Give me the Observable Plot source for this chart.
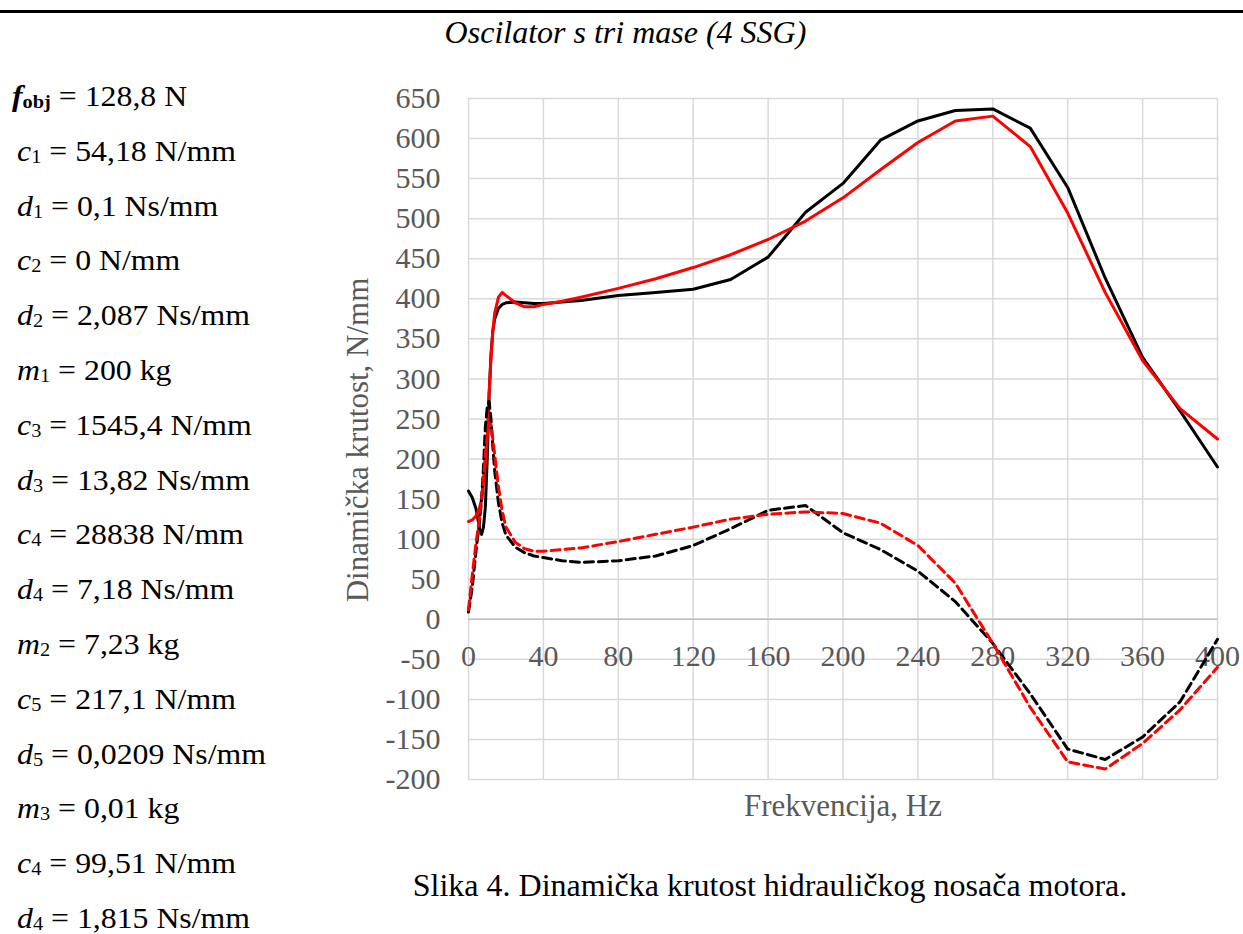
<!DOCTYPE html>
<html>
<head>
<meta charset="utf-8">
<script src="https://cdn.jsdelivr.net/npm/d3@7"></script>
<script src="https://cdn.jsdelivr.net/npm/@observablehq/plot@0.6"></script>
<style>
  html, body { margin: 0; padding: 0; background: #fff; }
  body { width: 1243px; height: 934px; position: relative; overflow: hidden;
         font-family: "Liberation Serif", serif; color: #000; }
  #topline { position: absolute; left: 0; top: 10px; width: 1243px; height: 3px; background: #000; }
  #title { position: absolute; left: 4px; top: 15px; width: 1243px; text-align: center;
           font-family: "Liberation Serif", serif; font-style: italic; font-size: 32px; line-height: 34px; }
  #chart { position: absolute; left: 0; top: 60px; }
  #params { position: absolute; left: 0; top: 0; z-index: 2; font-family: "Liberation Serif", serif; }
  .p { position: absolute; white-space: nowrap; font-family: "Liberation Serif", serif; font-size: 30px; line-height: 1;
       transform-origin: left center; transform: translateY(-50%) scaleX(1.06); }
  .p i { font-style: italic; font-family: "Liberation Serif", serif; }
  .p sub { font-size: 64%; vertical-align: -0.12em; line-height: 0; font-family: "Liberation Serif", serif; }
  .p.first i, .p.first sub { font-weight: bold; }
  .axtitle { position: absolute; white-space: nowrap; font-family: "Liberation Serif", serif; font-size: 31px; color: #595959; line-height: 1; }
  #xtitle { left: 843px; top: 805px; transform: translate(-50%, -50%); }
  #ytitle { left: 357px; top: 440px; transform: translate(-50%, -50%) rotate(-90deg); }
  #caption { position: absolute; left: 770px; top: 885px; transform: translate(-50%, -50%);
             white-space: nowrap; font-family: "Liberation Serif", serif; font-size: 32px; line-height: 1; }
</style>
</head>
<body>
<div id="topline"></div>
<div id="title">Oscilator s tri mase (4 SSG)</div>
<div id="chart"></div>
<div id="params"></div>
<div class="axtitle" id="xtitle">Frekvencija, Hz</div>
<div class="axtitle" id="ytitle">Dinamička krutost, N/mm</div>
<div id="caption">Slika 4. Dinamička krutost hidrauličkog nosača motora.</div>
<script>
// ---------------- data ----------------
const freq = [0, 2, 4, 6, 7, 8, 9, 10, 11, 12, 13, 14, 16, 18, 20, 25, 30, 35, 40, 50, 60,
              80, 100, 120, 140, 160, 180, 200, 220, 240, 260, 280, 300, 320, 340, 360, 380, 400];

// solid black
const stiffBlackSolid = [160, 152, 138, 112, 106, 115, 140, 200, 280, 330, 360, 375, 388, 393, 395, 396, 395, 394, 394, 396, 398,
                         404, 408, 412, 424, 452, 508, 544, 598, 622, 635, 637, 613, 539, 426, 327, 260, 190];
// solid red
const stiffRedSolid = [122, 124, 129, 140, 150, 170, 195, 226, 280, 325, 360, 382, 402, 408, 404, 395, 390, 390, 393, 397, 402,
                       413, 425, 439, 455, 474, 497, 526, 561, 595, 622, 628, 590, 507, 408, 323, 263, 225];
// dashed black
const stiffBlackDashed = [9, 40, 85, 124, 150, 190, 240, 265, 272, 250, 215, 185, 145, 120, 105, 90, 83, 79, 77, 73, 71,
                          73, 79, 92, 113, 136, 142, 108, 87, 60, 22, -30, -93, -162, -175, -147, -103, -25];
// dashed red
const stiffRedDashed = [12, 55, 95, 129, 150, 175, 205, 230, 245, 243, 225, 205, 165, 135, 115, 96, 88, 85, 85, 87, 89,
                        97, 106, 115, 125, 131, 134, 132, 120, 92, 45, -30, -110, -178, -187, -155, -113, -60];

const xTicks = [0, 40, 80, 120, 160, 200, 240, 280, 320, 360, 400];
const yTicks = [-200, -150, -100, -50, 0, 50, 100, 150, 200, 250, 300, 350, 400, 450, 500, 550, 600, 650];

// parameter list (left column)
const paramSymbol = ["f", "c", "d", "c", "d", "m", "c", "d", "c", "d", "m", "c", "d", "m", "c", "d"];
const paramIndex  = ["obj", "1", "1", "2", "2", "1", "3", "3", "4", "4", "2", "5", "5", "3", "4", "4"];
const paramValue  = ["128,8 N", "54,18 N/mm", "0,1 Ns/mm", "0 N/mm", "2,087 Ns/mm", "200 kg",
                     "1545,4 N/mm", "13,82 Ns/mm", "28838 N/mm", "7,18 Ns/mm", "7,23 kg",
                     "217,1 N/mm", "0,0209 Ns/mm", "0,01 kg", "99,51 N/mm", "1,815 Ns/mm"];

// ---------------- parameter text ----------------
const params = document.getElementById("params");
paramSymbol.forEach((s, i) => {
  const div = document.createElement("div");
  div.className = "p" + (i === 0 ? " first" : "");
  div.style.left = (i === 0 ? 12 : 17) + "px";
  div.style.top = (96 + i * 54.8) + "px";
  div.innerHTML = `<i>${s}</i><sub>${paramIndex[i]}</sub> = ${paramValue[i]}`;
  params.appendChild(div);
});

// ---------------- chart ----------------
const rows = (vals) => freq.map((f, i) => ({f, v: vals[i]}));
const gray = "#595959";
const chart = Plot.plot({
  width: 1243,
  height: 800,
  marginLeft: 468,
  marginRight: 26,
  marginTop: 38,
  marginBottom: 81,
  style: {fontFamily: "Liberation Serif, serif", fontSize: "30px", background: "transparent", color: gray},
  x: {domain: [0, 400], axis: null},
  y: {domain: [-200, 650], ticks: yTicks, tickSize: 0, tickPadding: 28, tickFormat: d => String(d), label: null},
  marks: [
    Plot.ruleX(xTicks, {stroke: "#d9d9d9", strokeWidth: 1.5}),
    Plot.ruleY(yTicks, {stroke: "#d9d9d9", strokeWidth: 1.5}),
    Plot.ruleY([0], {stroke: "#bfbfbf", strokeWidth: 1.5}),
    Plot.text(xTicks, {x: d => d, y: 0, dy: 37, text: d => String(d), fill: gray, fontSize: 30, lineAnchor: "middle"}),
    Plot.line(rows(stiffBlackSolid), {x: "f", y: "v", stroke: "#000", strokeWidth: 3}),
    Plot.line(rows(stiffRedSolid), {x: "f", y: "v", stroke: "#ff0000", strokeWidth: 3}),
    Plot.line(rows(stiffBlackDashed), {x: "f", y: "v", stroke: "#000", strokeWidth: 3, strokeDasharray: "9,5"}),
    Plot.line(rows(stiffRedDashed), {x: "f", y: "v", stroke: "#ff0000", strokeWidth: 3, strokeDasharray: "9,5"})
  ]
});
document.getElementById("chart").appendChild(chart);
</script>
</body>
</html>
